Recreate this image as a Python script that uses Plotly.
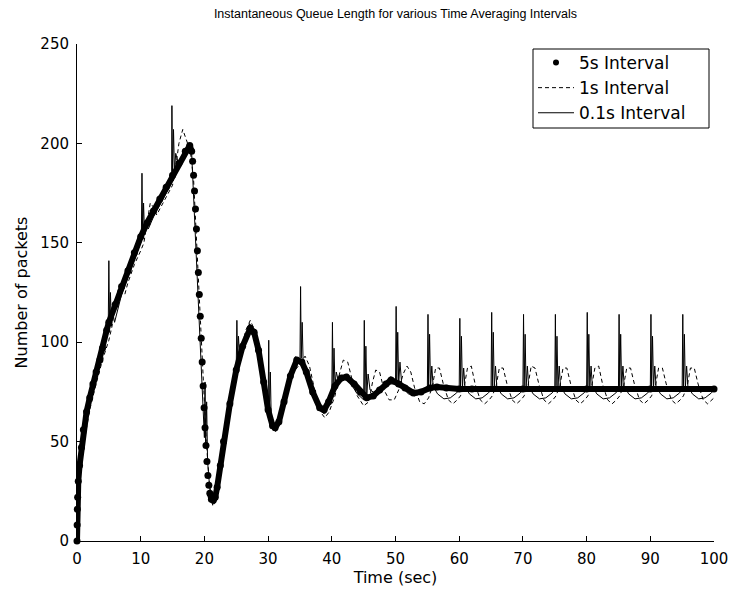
import plotly.graph_objects as go

# ---------------- data ----------------
# 5 s averaging interval (thick dotted curve)
t5 = [0, 0.02, 0.05, 0.1, 0.2, 0.4, 0.7, 1.0, 1.5, 2.0, 2.5, 3.0, 3.6, 4.0, 4.66, 5.0,
      6.0, 7.0, 8.0, 9.0, 10.0, 11.0, 12.0, 13.0, 14.0, 15.0, 16.0, 17.0, 17.7, 18.0,
      18.15, 18.3, 18.45, 18.6, 18.75, 18.9, 19.05, 19.2, 19.35, 19.5, 19.65, 19.8,
      19.95, 20.1, 20.25, 20.4, 20.55, 20.7, 20.85, 21.1, 21.4, 21.7, 22.0, 22.5, 23.0,
      24.0, 25.0, 26.0, 27.2, 27.8, 28.5, 29.3, 30.0, 30.7, 31.1, 31.7, 32.5, 33.5, 34.5,
      35.3, 36.0, 37.0, 38.1, 38.8, 39.5, 40.5, 41.5, 42.3, 43.5, 44.5, 45.5, 46.5, 47.5,
      48.5, 49.3, 50.5, 51.5, 52.8, 54.0, 55.4, 56.5, 58.0, 60.0, 62.0, 70.0, 80.0, 90.0, 100.0]
v5 = [0, 8, 16, 22, 30, 38, 47, 56, 65, 72, 79, 85, 91, 97, 106, 110,
      119, 128, 136, 145, 153, 160, 166, 172, 178, 184, 190, 196, 199, 196,
      191, 184, 176, 167, 157, 146, 135, 124, 113, 102, 90, 78,
      67, 57, 48, 40, 33, 28, 24, 21, 20.5, 22, 27, 38, 50,
      69, 86, 98, 107, 105, 96, 80, 66, 58, 57, 60, 70, 83, 91,
      90, 85, 75, 67, 66, 70, 78, 82, 82.5, 79, 75, 72, 73, 76,
      79, 81, 79, 77, 74.5, 75, 77, 77.5, 77, 76.5, 76.5, 76.5, 76.5, 76.5, 76.5]

# 1 s averaging interval (dashed curve)
t1 = [0, 0.1, 0.3, 0.6, 1.0, 1.5, 2.0, 3.0, 4.0, 5.0, 5.5, 6.0, 6.5, 7.0, 7.5, 8.0, 9.0,
      10.0, 10.5, 11.0, 11.5, 12.0, 12.5, 13.0, 14.0, 15.0, 15.5, 16.0, 16.6, 17.2, 17.8,
      18.3, 18.8, 19.3, 19.8, 20.3, 20.8, 21.3, 21.8, 22.5, 23.5, 24.5, 25.5, 26.5, 27.2,
      27.9, 28.8, 29.8, 30.6, 31.3, 32.0, 33.0, 34.0, 35.0, 35.8, 36.5, 37.3, 38.2, 38.9,
      39.6, 40.5, 41.2, 41.8, 42.5, 43.2, 44.0, 45.0, 45.8, 46.4, 46.9, 47.5, 48.2, 49.0,
      49.8, 50.5, 51.2, 51.8, 52.4, 53.0, 53.8, 54.5, 55.2,
      55.8, 56.3, 56.9, 57.5, 58.3, 59.0, 59.7, 60.2,
      60.8, 61.3, 61.9, 62.5, 63.3, 64.0, 64.7, 65.2,
      65.8, 66.3, 66.9, 67.5, 68.3, 69.0, 69.7, 70.2,
      70.8, 71.3, 71.9, 72.5, 73.3, 74.0, 74.7, 75.2,
      75.8, 76.3, 76.9, 77.5, 78.3, 79.0, 79.7, 80.2,
      80.8, 81.3, 81.9, 82.5, 83.3, 84.0, 84.7, 85.2,
      85.8, 86.3, 86.9, 87.5, 88.3, 89.0, 89.7, 90.2,
      90.8, 91.3, 91.9, 92.5, 93.3, 94.0, 94.7, 95.2,
      95.8, 96.3, 96.9, 97.5, 98.3, 99.0, 99.7, 100.0]
v1 = [0, 15, 26, 36, 47, 57, 66, 79, 91, 101, 108, 120, 127, 125, 124, 130, 139,
      146, 150, 160, 170, 168, 164, 167, 173, 179, 188, 200, 207, 202, 196,
      182, 150, 115, 80, 50, 28, 18, 21, 36, 56, 75, 93, 106, 111,
      106, 92, 70, 57, 56, 61, 74, 85, 89, 93, 88, 76, 65, 62,
      65, 73, 84, 91, 90, 81, 73, 68, 70, 80, 86, 85, 76, 71,
      71, 76, 84, 88, 85, 77, 70, 69, 72,
      78, 87, 87, 79, 71, 69, 71, 73,
      78, 87, 88, 79, 71, 69, 71, 73,
      78, 87, 87, 79, 71, 69, 71, 73,
      78, 88, 87, 79, 71, 69, 71, 73,
      78, 87, 87, 79, 71, 69, 71, 73,
      78, 87, 88, 79, 71, 69, 71, 73,
      78, 87, 87, 79, 71, 69, 71, 73,
      78, 87, 87, 79, 71, 69, 71, 73,
      78, 87, 87, 79, 71, 69, 71, 72]

# 0.1 s averaging interval (solid curve with spikes)
t01 = [0, 0.05, 0.2, 0.5, 1.0, 1.5, 2.0, 3.0, 4.0, 4.9, 5.0, 5.1, 5.25, 5.4, 5.6, 5.9,
       7.0, 8.0, 9.0, 10.1, 10.2, 10.3, 10.45, 10.6, 10.8, 11.2, 12.0, 13.0, 14.0,
       14.85, 14.9, 15.0, 15.15, 15.3, 15.5, 15.9, 17.0, 17.6, 18.0, 18.5, 19.0, 19.4,
       19.8, 20.0, 20.1, 20.2, 20.35, 20.5, 20.8, 21.1, 21.5, 22.0, 23.0, 24.0, 25.0,
       25.1, 25.2, 25.35, 25.5, 26.0, 27.0, 27.6, 28.5, 29.5, 30.0, 30.1, 30.2, 30.35,
       30.5, 31.0, 31.5, 32.5, 33.5, 34.5, 35.0, 35.1, 35.2, 35.35, 35.5, 36.0, 37.0,
       38.0, 38.8, 39.5, 40.0, 40.1, 40.2, 40.35, 40.5, 40.7, 41.0, 42.0, 43.0, 44.0,
       45.0, 45.1, 45.2, 45.35, 45.5, 45.7, 46.0, 47.0, 48.0, 49.0, 50.0, 50.1, 50.2,
       50.35, 50.5, 50.7, 51.0, 52.0, 53.0, 54.0, 55.0,
       55.1, 55.2, 55.35, 55.5, 55.7, 55.9, 56.6, 57.6, 58.6, 59.6, 60.0,
       60.1, 60.2, 60.35, 60.5, 60.7, 60.9, 61.6, 62.6, 63.6, 64.6, 65.0,
       65.1, 65.2, 65.35, 65.5, 65.7, 65.9, 66.6, 67.6, 68.6, 69.6, 70.0,
       70.1, 70.2, 70.35, 70.5, 70.7, 70.9, 71.6, 72.6, 73.6, 74.6, 75.0,
       75.1, 75.2, 75.35, 75.5, 75.7, 75.9, 76.6, 77.6, 78.6, 79.6, 80.0,
       80.1, 80.2, 80.35, 80.5, 80.7, 80.9, 81.6, 82.6, 83.6, 84.6, 85.0,
       85.1, 85.2, 85.35, 85.5, 85.7, 85.9, 86.6, 87.6, 88.6, 89.6, 90.0,
       90.1, 90.2, 90.35, 90.5, 90.7, 90.9, 91.6, 92.6, 93.6, 94.6, 95.0,
       95.1, 95.2, 95.35, 95.5, 95.7, 95.9, 96.6, 97.6, 98.6, 99.6, 100.0]
v01 = [0, 20, 32, 42, 55, 64, 72, 84, 96, 106, 141, 110, 125, 108, 115, 110,
       124, 133, 142, 151, 185, 155, 170, 154, 160, 157, 163, 169, 175,
       180, 219, 184, 207, 186, 195, 190, 196, 199, 195, 160, 128, 100,
       68, 52, 80, 48, 70, 40, 28, 21, 21, 30, 50, 70, 88,
       111, 92, 103, 94, 100, 106, 107, 98, 78, 66, 101, 64, 85,
       60, 56, 57, 67, 81, 89, 90, 128, 92, 110, 90, 87, 76,
       66, 64, 69, 74, 110, 77, 97, 78, 85, 81, 82, 79, 74,
       71, 111, 74, 98, 74, 84, 76, 74, 77, 79, 79, 118, 80,
       105, 79, 90, 78, 74, 73, 74, 76,
       114, 78, 104, 77, 88, 78, 74, 71.5, 72, 74.5, 76,
       112, 78, 103, 77, 87, 78, 74, 71.5, 72, 74.5, 76,
       115, 78, 105, 77, 88, 78, 74, 71.5, 72, 74.5, 76,
       114, 78, 104, 77, 88, 78, 74, 71.5, 72, 74.5, 76,
       114, 78, 103, 77, 88, 78, 74, 71.5, 72, 74.5, 76,
       115, 78, 104, 77, 88, 78, 74, 71.5, 72, 74.5, 76,
       114, 78, 104, 77, 88, 78, 74, 71.5, 72, 74.5, 76,
       114, 78, 103, 77, 88, 78, 74, 71.5, 72, 74.5, 76,
       114, 78, 104, 77, 88, 78, 74, 71.5, 72, 74.5, 76]

x_ticks = [0, 10, 20, 30, 40, 50, 60, 70, 80, 90, 100]
y_ticks = [0, 50, 100, 150, 200, 250]
series_names = ["5s Interval", "1s Interval", "0.1s Interval"]
title_text = "Instantaneous Queue Length for various Time Averaging Intervals"
x_label = "Time (sec)"
y_label = "Number of packets"

FONT = "DejaVu Sans, Verdana, sans-serif"
TITLE_FONT = "Liberation Sans, Arial, sans-serif"

# split of the 5 s curve: continuous band except the fast drop, where the dots separate
seg_a = [i for i, t in enumerate(t5) if t <= 18.0]
seg_b = [i for i, t in enumerate(t5) if t >= 20.85]

fig = go.Figure()

# 5 s curve: thick band + dots
fig.add_trace(go.Scatter(x=[t5[i] for i in seg_a], y=[v5[i] for i in seg_a], mode="lines",
                         line=dict(color="black", width=6), showlegend=False, hoverinfo="skip"))
fig.add_trace(go.Scatter(x=[t5[i] for i in seg_b], y=[v5[i] for i in seg_b], mode="lines",
                         line=dict(color="black", width=6), showlegend=False, hoverinfo="skip"))
fig.add_trace(go.Scatter(x=t5, y=v5, mode="markers", cliponaxis=False,
                         marker=dict(color="black", size=7, symbol="circle"),
                         showlegend=False))

# 1 s curve
fig.add_trace(go.Scatter(x=t1, y=v1, mode="lines", name=series_names[1],
                         line=dict(color="black", width=1, dash="4px,3px"), showlegend=False))
# 0.1 s curve
fig.add_trace(go.Scatter(x=t01, y=v01, mode="lines", name=series_names[2],
                         line=dict(color="black", width=1), showlegend=False))

# legend entries
fig.add_trace(go.Scatter(x=[None], y=[None], mode="markers", name=series_names[0],
                         marker=dict(color="black", size=6)))
fig.add_trace(go.Scatter(x=[None], y=[None], mode="lines", name=series_names[1],
                         line=dict(color="black", width=1, dash="4px,3px")))
fig.add_trace(go.Scatter(x=[None], y=[None], mode="lines", name=series_names[2],
                         line=dict(color="black", width=1)))

# legend frame (MATLAB-style box, wider than plotly's own legend border)
fig.add_shape(type="rect", xref="paper", yref="paper",
              x0=(533 - 77) / 637, x1=(709 - 77) / 637,
              y0=(541 - 128) / 497, y1=(541 - 49) / 497,
              line=dict(color="black", width=1), fillcolor="white", layer="above")

fig.update_layout(
    width=731, height=597,
    margin=dict(l=77, r=17, t=44, b=56, autoexpand=False),
    paper_bgcolor="white", plot_bgcolor="white",
    font=dict(family=FONT, size=15, color="black"),
    title=dict(text=title_text, x=0.5, xref="paper", xanchor="center",
               y=1 - 14 / 597, yref="container", yanchor="middle",
               font=dict(family=TITLE_FONT, size=12.5, color="black")),
    legend=dict(x=(533 - 77) / 637, xanchor="left", y=(541 - 45) / 497, yanchor="top",
                bgcolor="rgba(0,0,0,0)", borderwidth=0,
                font=dict(family=FONT, size=17, color="black"),
                itemwidth=36, traceorder="normal"),
    showlegend=True,
)
fig.update_xaxes(range=[0, 100], tickvals=x_ticks, ticks="inside", ticklen=5,
                 tickcolor="black", showline=True, linecolor="black", linewidth=1,
                 showgrid=False, zeroline=False, mirror=False, ticklabelstandoff=4,
                 automargin=False,
                 title=dict(text=x_label, standoff=3, font=dict(size=16)),
                 tickfont=dict(size=15))
fig.update_yaxes(range=[0, 250], tickvals=y_ticks, ticks="inside", ticklen=5,
                 tickcolor="black", showline=True, linecolor="black", linewidth=1,
                 showgrid=False, zeroline=False, mirror=False, ticklabelstandoff=4,
                 automargin=False,
                 title=dict(text=y_label, standoff=8, font=dict(size=16)),
                 tickfont=dict(size=15))

fig.write_html("out.html")
